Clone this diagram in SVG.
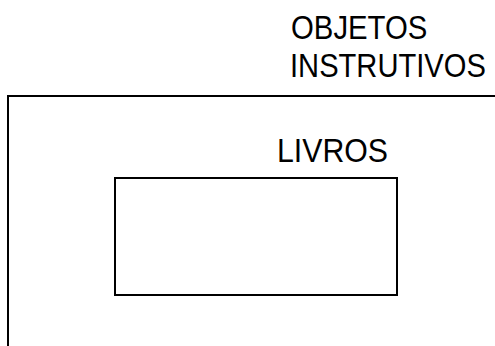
<svg xmlns="http://www.w3.org/2000/svg" width="495" height="346" viewBox="0 0 495 346">
<style>
.t{font-family:"Liberation Sans",Arial,sans-serif;font-size:34px;fill:#000;}
.ln{fill:none;stroke:#000;stroke-width:2;}
</style>
<rect width="495" height="346" fill="#fff"/>
<g id="objetos">
<polyline class="ln" points="495,96 8,96 8,346"/>
<text class="t" transform="translate(291,39) scale(0.863,1)">OBJETOS</text>
<text class="t" transform="translate(290,77) scale(0.857,1)">INSTRUTIVOS</text>
</g>
<g id="livros">
<text class="t" transform="translate(277,162) scale(0.89,1)">LIVROS</text>
<rect class="ln" x="115" y="178" width="282" height="117"/>
</g>
</svg>
